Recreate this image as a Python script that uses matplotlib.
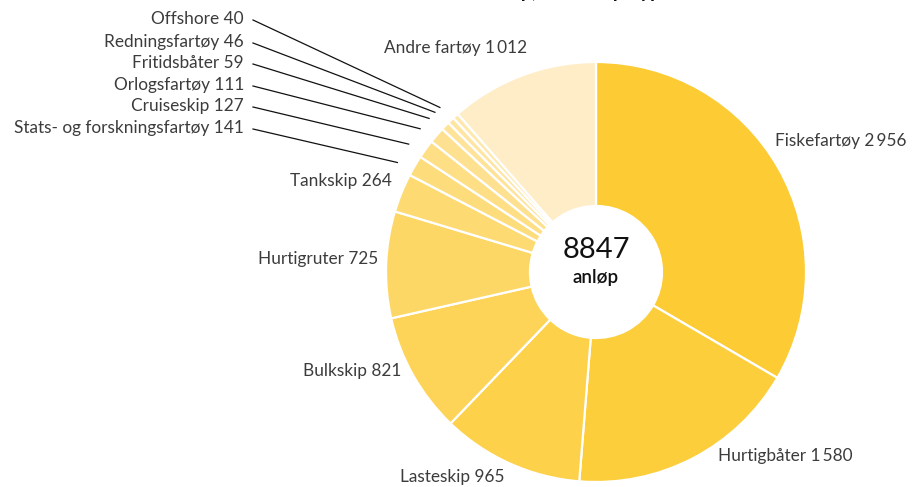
import numpy as np
import matplotlib
matplotlib.use("Agg")
import matplotlib.pyplot as plt

plt.rcParams['font.family'] = ['Lato', 'DejaVu Sans']

# data
kategorier = ["Fiskefartøy", "Hurtigbåter", "Lasteskip", "Bulkskip", "Hurtigruter",
              "Tankskip", "Stats- og forskningsfartøy", "Cruiseskip", "Orlogsfartøy",
              "Fritidsbåter", "Redningsfartøy", "Offshore", "Andre fartøy"]
anlop = [2956, 1580, 965, 821, 725, 264, 141, 127, 111, 59, 46, 40, 1012]
farger = ["#FDCB33", "#FDCE3C", "#FDD14A", "#FDD458", "#FDD766", "#FDDA72",
          "#FDDC7C", "#FEDF86", "#FEE190", "#FEE399", "#FEE5A2", "#FEE8AC", "#FEEDC7"]


def fmt(v):
    s = f"{v:,}".replace(",", "\u2009")
    return s


W, H = 913, 487
fig = plt.figure(figsize=(W / 100, H / 100), dpi=100)
ax = fig.add_axes([0, 0, 1, 1])

cx, cy = 596, H - 272
R, r_inner = 210, 66

wedges, _ = ax.pie(anlop, colors=farger, startangle=90, counterclock=False,
                   radius=R, center=(cx, cy),
                   wedgeprops=dict(width=R - r_inner, edgecolor="white", linewidth=1.6))
ax.set_xlim(0, W)
ax.set_ylim(0, H)
ax.set_aspect("equal")
ax.axis("off")

# labels for the big slices: (x, y from top, ha)
store = {
    "Fiskefartøy": (775, 141, "left"),
    "Hurtigbåter": (718, 456, "left"),
    "Lasteskip": (452, 477, "center"),
    "Bulkskip": (401, 371, "right"),
    "Hurtigruter": (378, 259, "right"),
    "Tankskip": (392, 181, "right"),
    "Andre fartøy": (456, 48, "center"),
}
# small slices with leader lines (y from top of label)
sma = {
    "Offshore": 19, "Redningsfartøy": 42, "Fritidsbåter": 63,
    "Orlogsfartøy": 85, "Cruiseskip": 106, "Stats- og forskningsfartøy": 128,
}

tekst = dict(fontsize=12.4, color="#3c3c3c", fontweight="normal")
for w, navn, v in zip(wedges, kategorier, anlop):
    lab = f"{navn} {fmt(v)}"
    if navn in store:
        x, y, ha = store[navn]
        ax.text(x, H - y, lab, ha=ha, va="center", **tekst)
    else:
        y = H - sma[navn]
        ax.text(244, y, lab, ha="right", va="center", **tekst)
        ang = np.deg2rad((w.theta1 + w.theta2) / 2 + 1.5)
        ex = cx + R * 1.08 * np.cos(ang)
        ey = cy + R * 1.08 * np.sin(ang)
        ax.plot([253, ex], [y - 1, ey], color="#111111", lw=0.9)

# centre
ax.text(cx, H - 250, f"{sum(anlop)}", ha="center", va="center", fontsize=21, color="#111111")
ax.text(cx, H - 278, "anløp", ha="center", va="center", fontsize=13.5, fontweight="semibold",
        color="#111111")

# title, cut off at the top edge like in the original
ax.text(576, H + 2.2, "Anløp, etter skipstype", ha="center", va="baseline",
        fontsize=14, fontweight="bold", color="#111111", clip_on=False)

fig.savefig("out.png", dpi=100)
